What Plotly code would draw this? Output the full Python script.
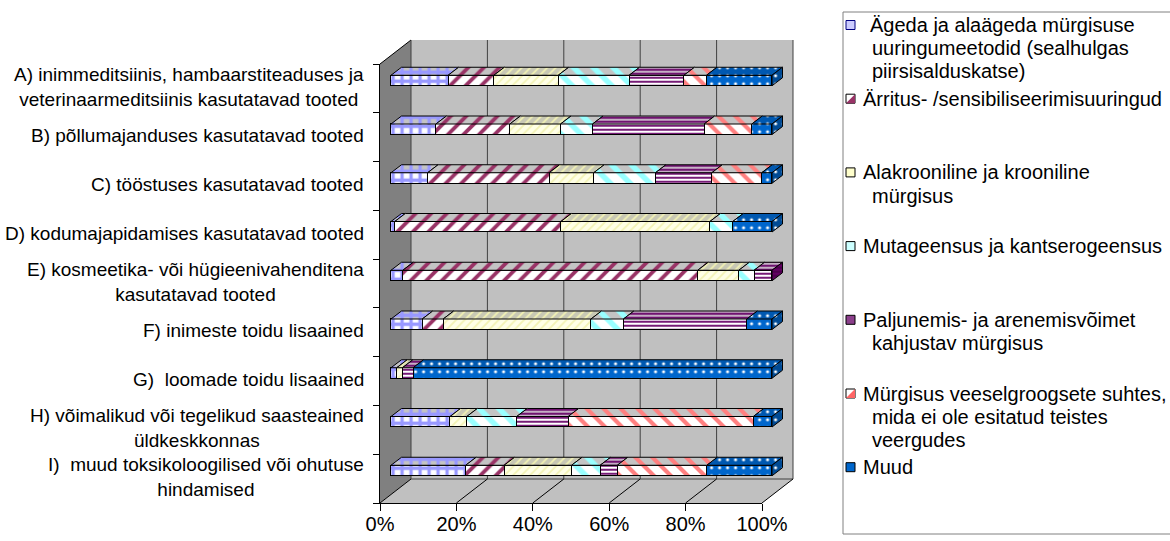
import plotly.graph_objects as go

W, H = 1170, 541

# ---------------------------------------------------------------- data
categories = [
    "A) inimmeditsiinis, hambaarstiteaduses ja<br>veterinaarmeditsiinis kasutatavad tooted",
    "B) põllumajanduses kasutatavad tooted",
    "C) tööstuses kasutatavad tooted",
    "D) kodumajapidamises kasutatavad tooted",
    "E) kosmeetika- või hügieenivahenditena<br>kasutatavad tooted",
    "F) inimeste toidu lisaained",
    "G)\u00a0 loomade toidu lisaained",
    "H) võimalikud või tegelikud saasteained<br>üldkeskkonnas",
    "I)\u00a0 muud toksikoloogilised või ohutuse<br>hindamised",
]

legend_lines = [
    ["Ägeda ja alaägeda mürgisuse", "uuringumeetodid (sealhulgas", "piirsisalduskatse)"],
    ["Ärritus- /sensibiliseerimisuuringud"],
    ["Alakrooniline ja krooniline", "mürgisus"],
    ["Mutageensus ja kantserogeensus"],
    ["Paljunemis- ja arenemisvõimet", "kahjustav mürgisus"],
    ["Mürgisus veeselgroogsete suhtes,", "mida ei ole esitatud teistes", "veergudes"],
    ["Muud"],
]

# share of each study type per product group (%), rows A..I
acute   = [15.0, 11.8,  9.6,  1.0,  3.1,  8.2,  1.5, 15.5, 19.6]
irrit   = [12.0, 19.4, 31.9, 43.6, 77.4,  5.5,  0.0,  0.0, 10.1]
chronic = [16.9, 13.3, 11.7, 39.1, 10.8, 38.8,  1.5,  4.4, 17.7]
mutagen = [18.6,  8.4, 16.2,  6.0,  4.0,  8.5,  0.0, 13.1,  7.5]
repro   = [14.4, 29.3, 14.8,  0.0,  4.7, 32.4,  2.8, 13.5,  4.5]
aquatic = [ 5.9, 12.5, 13.1,  0.0,  0.0,  0.0,  0.0, 48.6, 23.5]
other   = [17.2,  5.3,  2.7, 10.3,  0.0,  6.6, 94.2,  4.9, 17.1]

series_values = [acute, irrit, chronic, mutagen, repro, aquatic, other]

tick_vals = [0, 20, 40, 60, 80, 100]
tick_text = ["0%", "20%", "40%", "60%", "80%", "100%"]

# ---------------------------------------------------------------- styles
styles = [
    dict(fg="#9999FF", bg="#FFFFFF", shape="+", size=9, sol=0.6, top="#C4C4C4", end="#7A7AD0"),
    dict(fg="#993366", bg="#FFFFFF", shape="/", size=11, sol=0.35, top="#C4C4C4", end="#7A2952"),
    dict(fg="#F3F3B4", bg="#FFFFE6", shape="/", size=6, sol=0.3, top="#C8C8B4", end="#B8B890"),
    dict(fg="#99FFFF", bg="#FFFFFF", shape="\\", size=14, sol=0.4, top="#C4C4C4", end="#80C8C8"),
    dict(fg="#660066", bg="#FFFFFF", shape="-", size=4, sol=0.45, top="#C4B0C4", end="#4C004C"),
    dict(fg="#FF8080", bg="#FFFFFF", shape="\\", size=12, sol=0.35, top="#C4C4C4", end="#CC6666"),
    dict(fg="#FFFFFF", bg="#0066CC", shape=".", size=8, sol=0.12, top="#0058B0", end="#004A94"),
]
legend_fill = ["#CCCCFF", "#FFFFFF", "#FFFFCC", "#CCFFFF", "#8B3F8B", "#FFFFFF", "#0066CC"]
legend_tri = [None, "#993366", None, None, None, "#FF6666", None]

FONT = "Liberation Sans, Arial, sans-serif"


def px(x):
    return x / W


def py(y):
    return 1 - y / H


# ---------------------------------------------------------------- geometry
BAR_X0, BAR_X1 = 391, 772          # bar fronts: 0 % and 100 %
unit_x = (BAR_X1 - BAR_X0) / 100
XR = (-3, 106)
x_dom = [px(BAR_X0 + XR[0] * unit_x), px(BAR_X0 + XR[1] * unit_x)]
ROW0, PITCH = 80.5, 48.75           # first bar centre and row pitch (px)
YR = (-1, 9)
y_dom = [py(ROW0 + YR[1] * PITCH), py(ROW0 + YR[0] * PITCH)]
BAR_W = 10.5 / PITCH
DX = 10.5 / unit_x                  # bar depth, in axis units
DY = 8 / PITCH

# box: front plane 380..762 / 64..503, back plane shifted by (+31, -24)
FX0, FX1, FY0, FY1 = 380, 762, 64, 503
BDX, BDY = 31, -24

fig = go.Figure()
rows = list(range(len(categories)))

# front faces of the stacked bars
for j, vals in enumerate(series_values):
    st = styles[j]
    fig.add_trace(go.Bar(
        x=vals, y=rows, orientation="h", width=BAR_W,
        marker=dict(color=st["bg"], line=dict(color="black", width=1),
                    pattern=dict(shape=st["shape"], fgcolor=st["fg"], bgcolor=st["bg"],
                                 size=st["size"], solidity=st["sol"], fillmode="replace")),
        name=" ".join(legend_lines[j]), showlegend=False, hoverinfo="skip",
        xaxis="x", yaxis="y"))

# top faces (one polygon per segment) and right end faces
starts = [[0.0] * len(rows) for _ in series_values]
for i in rows:
    acc = 0.0
    for j, vals in enumerate(series_values):
        starts[j][i] = acc
        acc += vals[i]

for j, vals in enumerate(series_values):
    st = styles[j]
    xs, ys = [], []
    for i in rows:
        v = vals[i]
        if v <= 0:
            continue
        x0 = starts[j][i]
        x1 = x0 + v
        yt = i - BAR_W / 2
        xs += [x0, x1, x1 + DX, x0 + DX, x0, None]
        ys += [yt, yt, yt - DY, yt - DY, yt, None]
    fig.add_trace(go.Scatter(
        x=xs, y=ys, mode="lines", fill="toself", connectgaps=False,
        line=dict(color="black", width=1), fillcolor=st["top"],
        fillpattern=dict(shape=st["shape"], fgcolor=st["fg"], bgcolor=st["top"],
                         size=st["size"], solidity=st["sol"], fillmode="replace"),
        showlegend=False, hoverinfo="skip", xaxis="x", yaxis="y"))

for j, vals in enumerate(series_values):
    st = styles[j]
    xs, ys = [], []
    for i in rows:
        last = max(k for k in range(len(series_values)) if series_values[k][i] > 0)
        if last != j:
            continue
        xe = starts[j][i] + vals[i]
        yt, yb = i - BAR_W / 2, i + BAR_W / 2
        xs += [xe, xe, xe + DX, xe + DX, xe, None]
        ys += [yt, yb, yb - DY, yt - DY, yt, None]
    if not xs:
        continue
    fig.add_trace(go.Scatter(
        x=xs, y=ys, mode="lines", fill="toself", connectgaps=False,
        line=dict(color="black", width=1), fillcolor=st["end"],
        fillpattern=dict(shape=st["shape"], fgcolor=st["fg"], bgcolor=st["end"],
                         size=st["size"], solidity=st["sol"], fillmode="replace"),
        showlegend=False, hoverinfo="skip", xaxis="x", yaxis="y"))

# ---------------------------------------------------------------- walls
shapes = []


def poly(points, fill, line_color=None, width=1):
    path = "M " + " L ".join(f"{px(x):.5f},{py(y):.5f}" for x, y in points) + " Z"
    return dict(type="path", path=path, xref="paper", yref="paper", layer="below",
                fillcolor=fill, line=dict(color=line_color or fill, width=width if line_color else 0))


def seg(x0, y0, x1, y1, color="black", width=1):
    return dict(type="line", x0=px(x0), y0=py(y0), x1=px(x1), y1=py(y1),
                xref="paper", yref="paper", layer="below",
                line=dict(color=color, width=width))


shapes.append(poly([(FX0 + BDX, FY0 + BDY), (FX1 + BDX, FY0 + BDY),
                    (FX1 + BDX, FY1 + BDY), (FX0 + BDX, FY1 + BDY)], "#C0C0C0"))
shapes.append(poly([(FX0, FY1), (FX0 + BDX, FY1 + BDY), (FX1 + BDX, FY1 + BDY), (FX1, FY1)],
                   "#C0C0C0"))
shapes.append(poly([(FX0, FY0), (FX0 + BDX, FY0 + BDY), (FX0 + BDX, FY1 + BDY), (FX0, FY1)],
                   "#808080"))
shapes.append(seg(FX0, FY0, FX0 + BDX, FY0 + BDY))
shapes.append(seg(FX0 + BDX, FY1 + BDY, FX1 + BDX, FY1 + BDY, "#404040"))
for t in tick_vals:
    xf = FX0 + (FX1 - FX0) * t / 100
    xb = xf + BDX
    shapes.append(seg(xb, FY0 + BDY, xb, FY1 + BDY, "#404040"))
    shapes.append(seg(xf, FY1, xb, FY1 + BDY, "black"))

# ---------------------------------------------------------------- legend
LX0, LY0, LY1 = 843, 12, 534
shapes.append(dict(type="rect", x0=px(LX0), x1=px(W + 10), y0=py(LY1), y1=py(LY0),
                   xref="paper", yref="paper", line=dict(color="#808080", width=1),
                   fillcolor="rgba(0,0,0,0)"))

annotations = []
L_START, L_STEP, L_LINE = 25, 73.7, 23.2
for j, lines in enumerate(legend_lines):
    yc = L_START + L_STEP * j
    shapes.append(dict(type="rect", x0=px(846), x1=px(855), y0=py(yc + 4.5), y1=py(yc - 4.5),
                       xref="paper", yref="paper", fillcolor=legend_fill[j],
                       line=dict(color="#000080" if j == 0 else "black", width=1)))
    if legend_tri[j]:
        shapes.append(dict(type="path", xref="paper", yref="paper",
                           path=f"M {px(855):.5f},{py(yc - 4.5):.5f} L {px(855):.5f},{py(yc + 4.5):.5f} "
                                f"L {px(846):.5f},{py(yc + 4.5):.5f} Z",
                           fillcolor=legend_tri[j], line=dict(width=0)))
    for k, txt in enumerate(lines):
        x_left = 868 if (j == 0 and k == 0) else (861 if k == 0 else 870)
        annotations.append(dict(
            x=px(x_left), y=py(yc + k * L_LINE), xref="paper", yref="paper",
            text=txt, showarrow=False, xanchor="left", yanchor="middle",
            font=dict(family=FONT, size=20, color="black")))

# category labels on the left
for i, lab in enumerate(categories):
    annotations.append(dict(
        x=px(366), y=i, xref="paper", yref="y2", text=lab, showarrow=False,
        xanchor="right", yanchor="middle", align="center", yshift=1.5,
        font=dict(family=FONT, size=19, color="black")))

fig.update_layout(
    width=W, height=H, margin=dict(l=0, r=0, t=0, b=0),
    template="none", paper_bgcolor="white", plot_bgcolor="rgba(0,0,0,0)",
    barmode="stack", bargap=0, showlegend=False,
    shapes=shapes, annotations=annotations,
    xaxis=dict(domain=x_dom, range=list(XR), visible=False, anchor="y", fixedrange=True),
    yaxis=dict(domain=y_dom, range=[YR[1], YR[0]], visible=False, anchor="x", fixedrange=True),
    xaxis2=dict(domain=[px(FX0), px(FX1)], range=[0, 100], anchor="y2",
                tickmode="array", tickvals=tick_vals, ticktext=tick_text,
                ticks="outside", ticklen=7, tickcolor="black", tickwidth=1,
                ticklabelstandoff=-4,
                showline=True, linecolor="black", linewidth=1,
                showgrid=False, zeroline=False,
                tickfont=dict(family=FONT, size=20, color="black")),
    yaxis2=dict(domain=[py(FY1), py(FY0)], range=[len(categories) - 0.5, -0.5], anchor="x2",
                tickmode="array", tickvals=[k - 0.5 for k in range(len(categories) + 1)],
                ticks="outside", ticklen=6, tickcolor="black", tickwidth=1,
                showticklabels=False, showline=True, linecolor="black", linewidth=1,
                showgrid=False, zeroline=False),
)

fig.write_html("out.html")
